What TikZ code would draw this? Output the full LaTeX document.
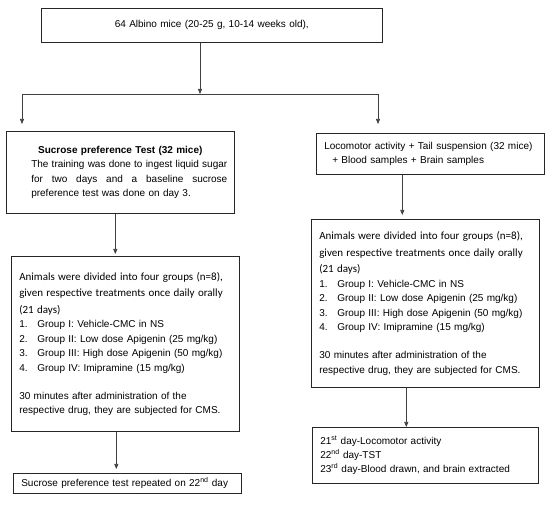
\documentclass[tikz,border=0pt]{standalone}
\usepackage{fontspec}
\setmainfont{Liberation Sans}
\newfontfamily\calibri{Carlito}
\usetikzlibrary{arrows.meta}

\tikzset{
  box/.style={draw=black!85, line width=0.6pt, anchor=north west, inner xsep=8pt, inner ysep=0pt,
    minimum width=228pt, text width=212pt, align=left, font=\fontsize{10}{14.5}\selectfont},
  arr/.style={draw=black!75, line width=0.6pt, -{Triangle[length=5pt,width=4pt]}},
  link/.style={draw=black!75, line width=0.6pt},
}

\begin{document}
\begin{tikzpicture}[x=1pt,y=-1pt]
            \useasboundingbox (0,0) rectangle (550,508);

            % top box and split
            \node[box, minimum width=341pt, text width=325pt, minimum height=34pt, align=center] (mice) at (41,8) {64 Albino mice (20-25 g, 10-14 weeks old),};
            \coordinate (split) at (200,94);
            \coordinate (splitL) at (22,94);
            \coordinate (splitR) at (378,94);
            \coordinate (inL) at (22,124);
            \coordinate (inR) at (378,124);
            \draw[arr] (mice.south -| split) -- (split);
            \draw[link] (splitL) -- (splitR);
            \draw[arr] (splitL) -- (inL);
            \draw[arr] (splitR) -- (inR);

            % left branch
            \node[box, inner xsep=7pt, text width=214pt, minimum height=82pt, align=left] (sucrose) at (6,131) {{\centering\textbf{Sucrose preference Test (32 mice)}\par}
                \hspace*{18pt}\makebox[196pt][s]{\spaceskip=0.28em plus 1fil The training was done to ingest liquid sugar}\\
                \hspace*{18pt}\makebox[196pt][s]{\spaceskip=0.28em plus 1fil for two days and a baseline sucrose}\\
                \hspace*{18pt}preference test was done on day 3.\par\vspace{5pt}};
            \node[box, minimum height=175pt] (groupsleft) at (11,256) {{\calibri\fontsize{11}{16.5}\selectfont Animals were divided into four groups (n=8),\\ given respective treatments once daily orally\\ (21 days)\par}
                \makebox[18pt][l]{1.}Group I: Vehicle-CMC in NS\\
                \makebox[18pt][l]{2.}Group II: Low dose Apigenin (25 mg/kg)\\
                \makebox[18pt][l]{3.}Group III: High dose Apigenin (50 mg/kg)\\
                \makebox[18pt][l]{4.}Group IV: Imipramine (15 mg/kg)\\[13.5pt]
                30 minutes after administration of the\\ respective drug, they are subjected for CMS.};
            \node[box, minimum height=20pt] (repeat) at (13,473) {Sucrose preference test repeated on 22\textsuperscript{nd} day};
            \draw[arr, shorten >=2pt] ([xshift=-5pt]sucrose.south) -- ([xshift=-5pt]sucrose.south |- groupsleft.north);
            \draw[arr, shorten >=4pt] ([xshift=-9pt]groupsleft.south) -- ([xshift=-9pt]groupsleft.south |- repeat.north);

            % right branch
            \node[box, minimum height=41pt, font=\fontsize{10}{14}\selectfont] (locomotor) at (316,133) {Locomotor activity + Tail suspension (32 mice)\\ \hspace*{8pt}+ Blood samples + Brain samples};
            \node[box, minimum height=168pt] (groupsright) at (311,219) {{\calibri\fontsize{11}{16.5}\selectfont Animals were divided into four groups (n=8),\\ given respective treatments once daily orally\\ (21 days)\par}
                \makebox[18pt][l]{1.}Group I: Vehicle-CMC in NS\\
                \makebox[18pt][l]{2.}Group II: Low dose Apigenin (25 mg/kg)\\
                \makebox[18pt][l]{3.}Group III: High dose Apigenin (50 mg/kg)\\
                \makebox[18pt][l]{4.}Group IV: Imipramine (15 mg/kg)\\[13.5pt]
                30 minutes after administration of the\\ respective drug, they are subjected for CMS.};
            \node[box, minimum width=226pt, text width=210pt, minimum height=56pt, font=\fontsize{10}{14}\selectfont] (days) at (312,427) {21\textsuperscript{st} day-Locomotor activity\\ 22\textsuperscript{nd} day-TST\\ 23\textsuperscript{rd} day-Blood drawn, and brain extracted};
            \draw[arr, shorten >=4pt] ([xshift=-28pt]locomotor.south) -- ([xshift=-28pt]locomotor.south |- groupsright.north);
            \draw[arr] ([xshift=-19pt]groupsright.south) -- ([xshift=-19pt]groupsright.south |- days.north);
        \end{tikzpicture}
\end{document}
